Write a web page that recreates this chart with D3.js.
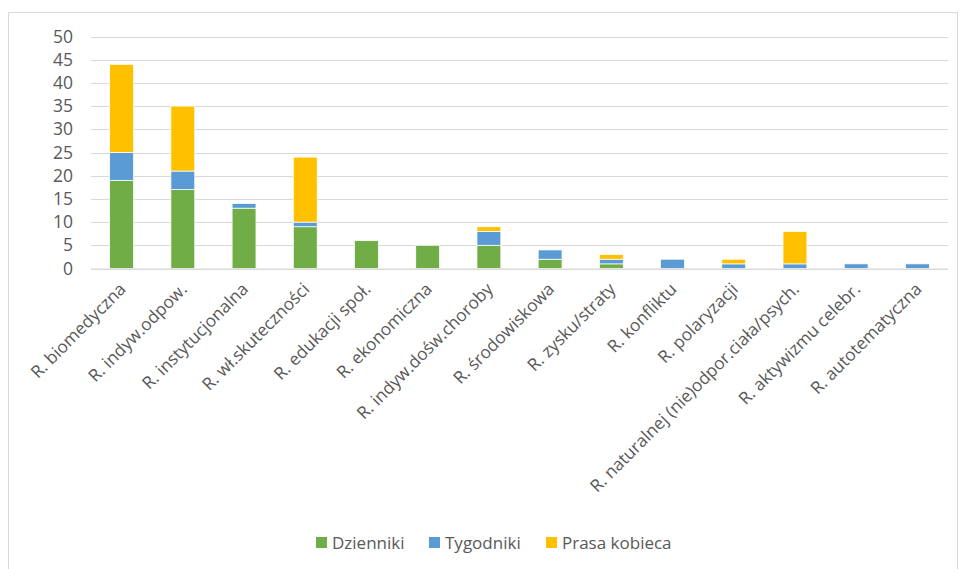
<!DOCTYPE html>
<html><head><meta charset="utf-8">
<script src="https://cdn.jsdelivr.net/npm/d3@7"></script>
<style>body{margin:0;background:#fff;} text{font-family:"Open Sans",sans-serif;}</style>
</head><body><svg id="c" width="964" height="569"></svg>
<script>
const categories = ["R. biomedyczna","R. indyw.odpow.","R. instytucjonalna","R. wł.skuteczności","R. edukacji społ.","R. ekonomiczna","R. indyw.dośw.choroby","R. środowiskowa","R. zysku/straty","R. konfliktu","R. polaryzacji","R. naturalnej (nie)odpor.ciała/psych.","R. aktywizmu celebr.","R. autotematyczna"];
const dzienniki = [19,17,13,9,6,5,5,2,1,0,0,0,0,0];
const tygodniki = [6,4,1,1,0,0,3,2,1,2,1,1,1,1];
const prasaKobieca = [19,14,0,14,0,0,1,0,1,0,1,7,0,0];
const seriesNames = ["Dzienniki","Tygodniki","Prasa kobieca"];
const colors = ["#70AD47","#5B9BD5","#FFC000"];
const yTicks = [0,5,10,15,20,25,30,35,40,45,50];

const svg = d3.select("#c");
svg.append("rect").attr("x",8.5).attr("y",12.5).attr("width",949).attr("height",570)
  .attr("fill","#fff").attr("stroke","#D9D9D9");

const x = d3.scaleBand().domain(categories).range([91,948]).paddingInner(0.61).paddingOuter(0.305);
const y = d3.scaleLinear().domain([0,50]).range([268.5,36.5]);

svg.append("g").selectAll("line").data(yTicks).join("line")
  .attr("x1",91).attr("x2",948).attr("y1",d=>Math.round(y(d))+0.5).attr("y2",d=>Math.round(y(d))+0.5)
  .attr("stroke","#D9D9D9").attr("stroke-width",1);

const yAxis = d3.axisLeft(y).tickValues(yTicks).tickSize(0).tickPadding(0);
const ya = svg.append("g").attr("transform","translate(73,0)").call(yAxis);
ya.select(".domain").remove();
ya.selectAll("text").attr("fill","#595959").style("font-size","17.5px").style("font-family","'Open Sans',sans-serif");

const rows = categories.map((c,i)=>({cat:c,"Dzienniki":dzienniki[i],"Tygodniki":tygodniki[i],"Prasa kobieca":prasaKobieca[i]}));
const stack = d3.stack().keys(seriesNames)(rows);
svg.append("g").selectAll("g").data(stack).join("g").attr("fill",(d,i)=>colors[i])
  .selectAll("rect").data(d=>d.filter(p=>p[1]-p[0]>0)).join("rect")
  .attr("x",d=>x(d.data.cat)).attr("width",x.bandwidth())
  .attr("y",d=>y(d[1])).attr("height",d=>y(d[0])-y(d[1]))
  .attr("stroke","#fff").attr("stroke-width",0.75);

svg.append("line").attr("x1",91).attr("x2",948).attr("y1",269).attr("y2",269).attr("stroke","#D9D9D9");

const xAxis = d3.axisBottom(x).tickSize(0).tickPadding(0);
const xa = svg.append("g").attr("transform","translate(0,286)").call(xAxis);
xa.select(".domain").remove();
xa.selectAll("text").attr("fill","#595959").style("font-size","17.2px").style("font-family","'Open Sans',sans-serif")
  .attr("text-anchor","end").attr("dy","0.35em").attr("y",0).attr("x",0)
  .attr("transform","translate(1,0) rotate(-45)");

const legX = [316,429,546];
const lg = svg.append("g");
seriesNames.forEach((n,i)=>{
  lg.append("rect").attr("x",legX[i]).attr("y",537).attr("width",11).attr("height",11).attr("fill",colors[i]);
  lg.append("text").attr("x",legX[i]+16).attr("y",543).attr("dy","0.35em").attr("fill","#595959")
    .style("font-size","17px").text(n);
});
</script></body></html>
